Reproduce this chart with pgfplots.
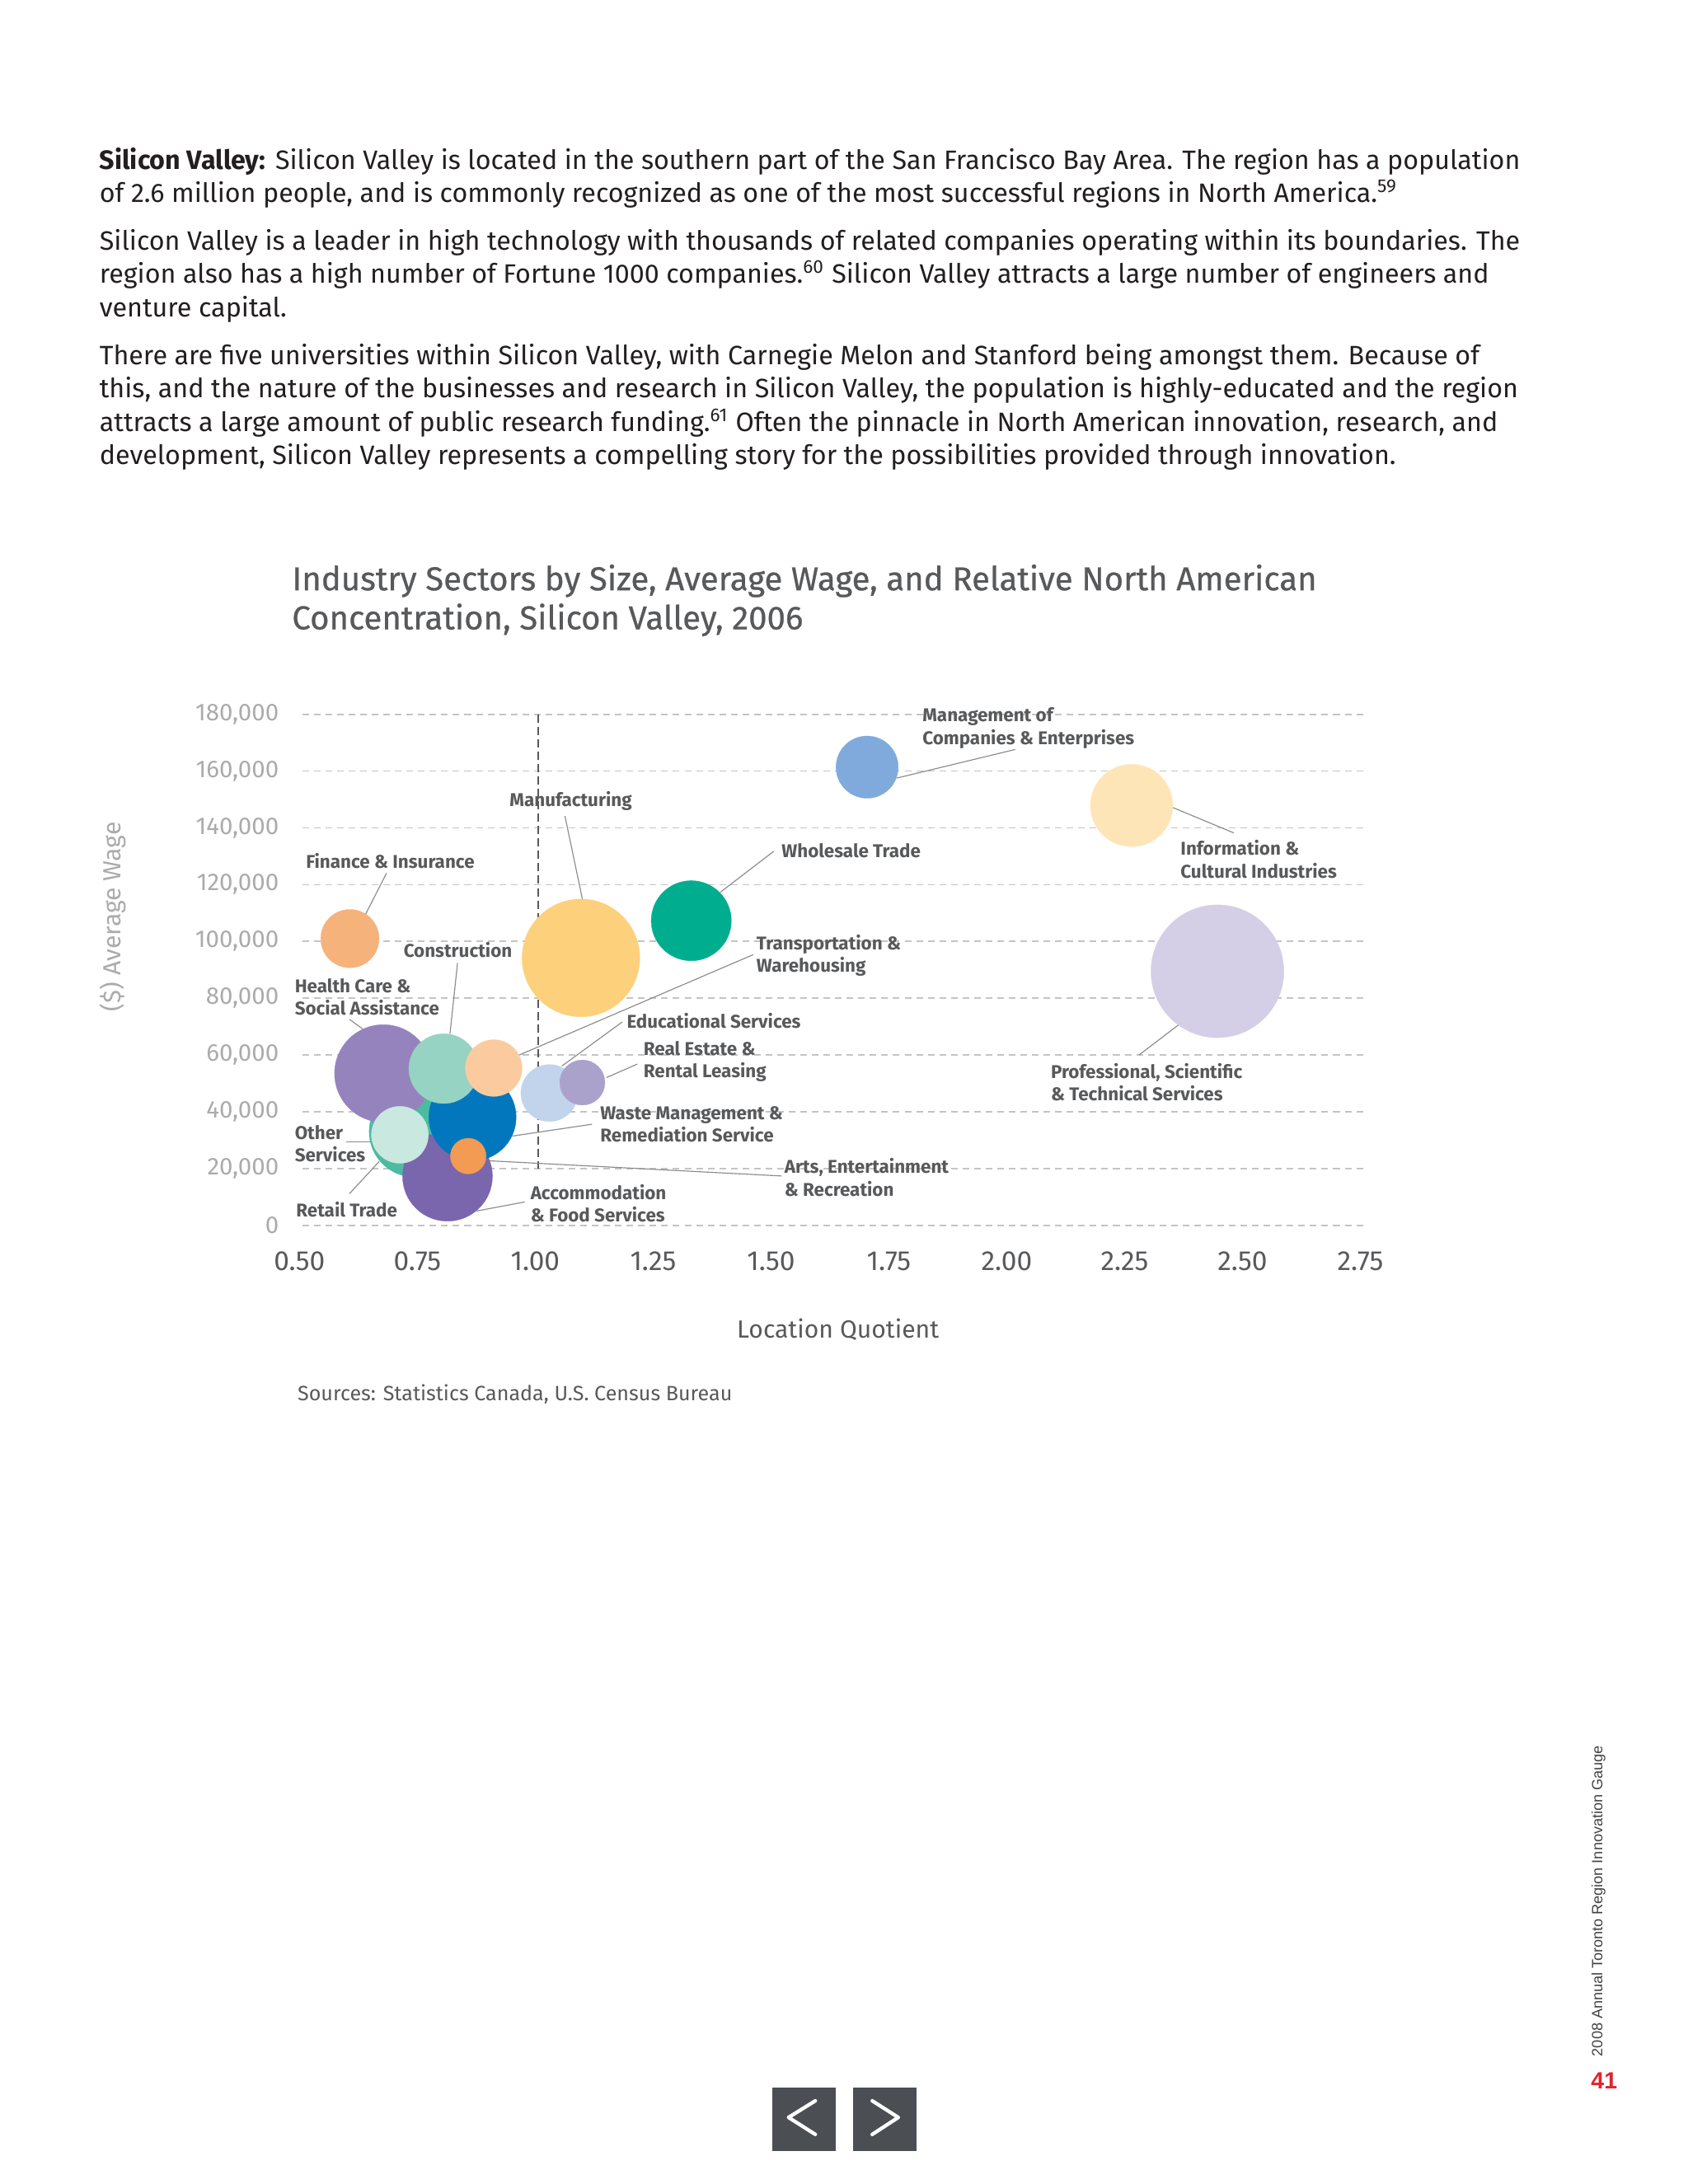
\documentclass[border=0pt]{standalone}
\usepackage{pgfplots}
\pgfplotsset{compat=1.18}
\usepackage{fontspec}
\setmainfont{Fira Sans}
\newfontfamily\titlefont{Fira Sans}[FakeBold=0.6]
\newfontfamily\arialfont{Liberation Sans}

\definecolor{bodytext}{HTML}{231F20}
\definecolor{labgray}{HTML}{58595B}
\definecolor{ticklight}{HTML}{ABABAB}
\definecolor{gridgray}{HTML}{C4C4C4}
\definecolor{leadgray}{HTML}{8C8C8C}
\definecolor{navgray}{HTML}{4B4E53}
\definecolor{pagered}{HTML}{E0242B}
% bubble colours
\definecolor{cFinance}{HTML}{F6B27B}
\definecolor{cManuf}{HTML}{FDD07B}
\definecolor{cWhole}{HTML}{00AE8F}
\definecolor{cMgmt}{HTML}{80AADB}
\definecolor{cInfo}{HTML}{FEE5B7}
\definecolor{cProf}{HTML}{D4CFE6}
\definecolor{cHealth}{HTML}{9583BD}
\definecolor{cConstr}{HTML}{97D3C2}
\definecolor{cTransp}{HTML}{FBCB9F}
\definecolor{cWaste}{HTML}{0277BE}
\definecolor{cRetail}{HTML}{4CBBA2}
\definecolor{cOther}{HTML}{C9E8E0}
\definecolor{cAccom}{HTML}{7A66AD}
\definecolor{cArts}{HTML}{F39B52}
\definecolor{cEduc}{HTML}{C2D4EC}
\definecolor{cReal}{HTML}{ABA2CC}

\tikzset{
  bodyline/.style={anchor=mid west, inner sep=0pt, text=bodytext, font=\fontsize{9.64}{11}\selectfont},
  lab/.style={anchor=west, inner sep=0pt, align=left, text=labgray, font=\bfseries\fontsize{6.7}{8.1}\selectfont},
  leader/.style={draw=leadgray, line width=0.35pt},
}
\pgfplotsset{bubble/.style={only marks, mark=*, color=#1, mark options={line width=0.1pt}}}

\begin{document}
\begin{tikzpicture}
\path[use as bounding box] (0,0) rectangle (612pt,792pt);
\fill[white] (0,0) rectangle (612pt,792pt);

\begin{scope}[yshift=792pt, x=0.5058pt, y=-0.5058pt]
% page text
\node[bodyline] at (71,116) {\textbf{Silicon Valley:} Silicon Valley is located in the southern part of the San Francisco Bay Area. The region has a population};
\node[bodyline] at (71,140) {of 2.6 million people, and is commonly recognized as one of the most successful regions in North America.\textsuperscript{59}};
\node[bodyline] at (71,174) {Silicon Valley is a leader in high technology with thousands of related companies operating within its boundaries. The};
\node[bodyline] at (71,198) {region also has a high number of Fortune 1000 companies.\textsuperscript{60} Silicon Valley attracts a large number of engineers and};
\node[bodyline] at (71,222) {venture capital.};
\node[bodyline] at (71,256) {There are five universities within Silicon Valley, with Carnegie Melon and Stanford being amongst them. Because of};
\node[bodyline] at (71,280) {this, and the nature of the businesses and research in Silicon Valley, the population is highly-educated and the region};
\node[bodyline] at (71,304) {attracts a large amount of public research funding.\textsuperscript{61} Often the pinnacle in North American innovation, research, and};
\node[bodyline] at (71,328) {development, Silicon Valley represents a compelling story for the possibilities provided through innovation.};

% chart title
\node[anchor=mid west, inner sep=0pt, text=labgray, font=\titlefont\fontsize{12}{14}\selectfont] at (209,418) {Industry Sectors by Size, Average Wage, and Relative North American};
\node[anchor=mid west, inner sep=0pt, text=labgray, font=\titlefont\fontsize{12}{14}\selectfont] at (209,446) {Concentration, Silicon Valley, 2006};

% source
\node[anchor=mid west, inner sep=0pt, text=labgray, font=\fontsize{7.5}{9}\selectfont] at (213,999) {Sources: Statistics Canada, U.S. Census Bureau};

% side text and page number
\node[rotate=90, inner sep=0pt, text=bodytext!85, font=\arialfont\fontsize{5.4}{6}\selectfont] at (1146,1363) {2008 Annual Toronto Region Innovation Gauge};
\node[inner sep=0pt, text=pagered, font=\arialfont\bfseries\fontsize{8.5}{10}\selectfont] at (1150,1492) {41};

% navigation buttons
\fill[navgray] (553.4,1496.8) rectangle (599.3,1542.1);
\fill[navgray] (611.5,1496.8) rectangle (657.2,1542.1);
\draw[white, line width=1.3pt, line cap=round, line join=round] (584.5,1506.2) -- (565.3,1518.1) -- (584.5,1530.3);
\draw[white, line width=1.3pt, line cap=round, line join=round] (625.3,1506.2) -- (644,1518.1) -- (625.3,1530.3);
\end{scope}

\begin{axis}[
  at={(109.61pt,347.63pt)}, anchor=south west,
  scale only axis, width=384.66pt, height=185.33pt,
  xmin=0.5, xmax=2.75, ymin=0, ymax=180000,
  clip=false,
  scaled ticks=false,
  axis line style={draw=none},
  major tick length=0pt,
  xtick={0.5,0.75,1,1.25,1.5,1.75,2,2.25,2.5,2.75},
  xticklabels={0.50,0.75,1.00,1.25,1.50,1.75,2.00,2.25,2.50,2.75},
  ytick={0,20000,40000,60000,80000,100000,120000,140000,160000,180000},
  yticklabels={0,{20,000},{40,000},{60,000},{80,000},{100,000},{120,000},{140,000},{160,000},{180,000}},
  ymajorgrids,
  grid style={line width=0.5pt, color=gridgray, dash pattern=on 2.4pt off 1.8pt},
  xticklabel style={font=\fontsize{10}{12}\selectfont, text=labgray, yshift=-6pt, xshift=-1pt},
  yticklabel style={font=\fontsize{8.8}{10}\selectfont, text=ticklight, xshift=-5pt},
  xlabel={Location Quotient},
  xlabel style={at={(axis description cs:0.505,0)}, anchor=center, yshift=-37.7pt, font=\fontsize{9}{11}\selectfont, text=labgray},
  ylabel={(\$) Average Wage},
  ylabel style={at={(axis description cs:-0.1784,0.604)}, anchor=center, font=\fontsize{9}{11}\selectfont, text=ticklight},
]
% reference line at LQ = 1
\draw[color=labgray, line width=0.5pt, dash pattern=on 3pt off 1.5pt] (axis cs:1,180000) -- (axis cs:1,20000);

% bubbles, back to front (mark size = bubble radius)
\addplot[bubble=cRetail, mark size=16.44pt] coordinates {(0.738,33000)};
\addplot[bubble=cHealth, mark size=17.70pt] coordinates {(0.672,53500)};
\addplot[bubble=cAccom, mark size=16.29pt] coordinates {(0.808,17300)};
\addplot[bubble=cWaste, mark size=15.83pt] coordinates {(0.861,38100)};
\addplot[bubble=cConstr, mark size=12.65pt] coordinates {(0.800,55200)};
\addplot[bubble=cTransp, mark size=10.27pt] coordinates {(0.906,55400)};
\addplot[bubble=cOther, mark size=10.32pt] coordinates {(0.707,31900)};
\addplot[bubble=cArts, mark size=6.47pt] coordinates {(0.852,24400)};
\addplot[bubble=cEduc, mark size=10.32pt] coordinates {(1.024,46600)};
\addplot[bubble=cReal, mark size=8.19pt] coordinates {(1.094,50300)};
\addplot[bubble=cFinance, mark size=10.57pt] coordinates {(0.601,101000)};
\addplot[bubble=cManuf, mark size=21.34pt] coordinates {(1.091,94200)};
\addplot[bubble=cWhole, mark size=14.52pt] coordinates {(1.325,107300)};
\addplot[bubble=cMgmt, mark size=11.28pt] coordinates {(1.698,161400)};
\addplot[bubble=cInfo, mark size=14.92pt] coordinates {(2.259,147900)};
\addplot[bubble=cProf, mark size=24.08pt] coordinates {(2.441,89500)};

% leader lines
\draw[leader] (axis cs:2.0121,167617) -- (axis cs:1.7612,157543);
\draw[leader] (axis cs:2.3470,147125) -- (axis cs:2.4757,138231);
\draw[leader] (axis cs:1.5003,131793) -- (axis cs:1.3864,117297);
\draw[leader] (axis cs:1.0571,144177) -- (axis cs:1.0944,114693);
\draw[leader] (axis cs:0.6787,124079) -- (axis cs:0.6337,109386);
\draw[leader] (axis cs:0.8293,92432) -- (axis cs:0.8133,67518);
\draw[leader] (axis cs:0.6000,72580) -- (axis cs:0.6281,69189);
\draw[leader] (axis cs:1.4562,95332) -- (axis cs:0.9601,60000);
\draw[leader] (axis cs:1.1787,71646) -- (axis cs:1.0506,56118);
\draw[leader] (axis cs:1.2107,56806) -- (axis cs:1.1456,52088);
\draw[leader] (axis cs:1.1145,35627) -- (axis cs:0.9456,31450);
\draw[leader] (axis cs:1.5166,17396) -- (axis cs:0.8962,22752);
\draw[leader] (axis cs:0.9719,8256) -- (axis cs:0.8698,5061);
\draw[leader] (axis cs:0.5932,29533) -- (axis cs:0.6456,29533);
\draw[leader] (axis cs:0.6000,11155) -- (axis cs:0.6630,22457);
\draw[leader] (axis cs:2.2746,60000) -- (axis cs:2.3589,70663);

% sector labels
\node[lab] at (axis cs:1.8145,175135) {Management of\\Companies \& Enterprises};
\node[lab] at (axis cs:2.3618,128943) {Information \&\\Cultural Industries};
\node[lab] at (axis cs:1.5157,131892) {Wholesale Trade};
\node[lab] at (axis cs:0.9388,149582) {Manufacturing};
\node[lab] at (axis cs:0.5068,128452) {Finance \& Insurance};
\node[lab] at (axis cs:0.7139,97002) {Construction};
\node[lab] at (axis cs:0.4831,80540) {Health Care \&\\Social Assistance};
\node[lab] at (axis cs:1.4624,95037) {Transportation \&\\Warehousing};
\node[lab] at (axis cs:1.1873,71941) {Educational Services};
\node[lab] at (axis cs:1.2228,57690) {Real Estate \&\\Rental Leasing};
\node[lab] at (axis cs:1.1311,35577) {Waste Management \&\\Remediation Service};
\node[lab] at (axis cs:1.5216,16904) {Arts, Entertainment\\\& Recreation};
\node[lab] at (axis cs:0.9831,7813) {Accommodation\\\& Food Services};
\node[lab] at (axis cs:0.4831,28698) {Other\\Services};
\node[lab] at (axis cs:0.4861,5602) {Retail Trade};
\node[lab] at (axis cs:2.0867,50319) {Professional, Scientific\\\& Technical Services};
\end{axis}
\end{tikzpicture}
\end{document}
